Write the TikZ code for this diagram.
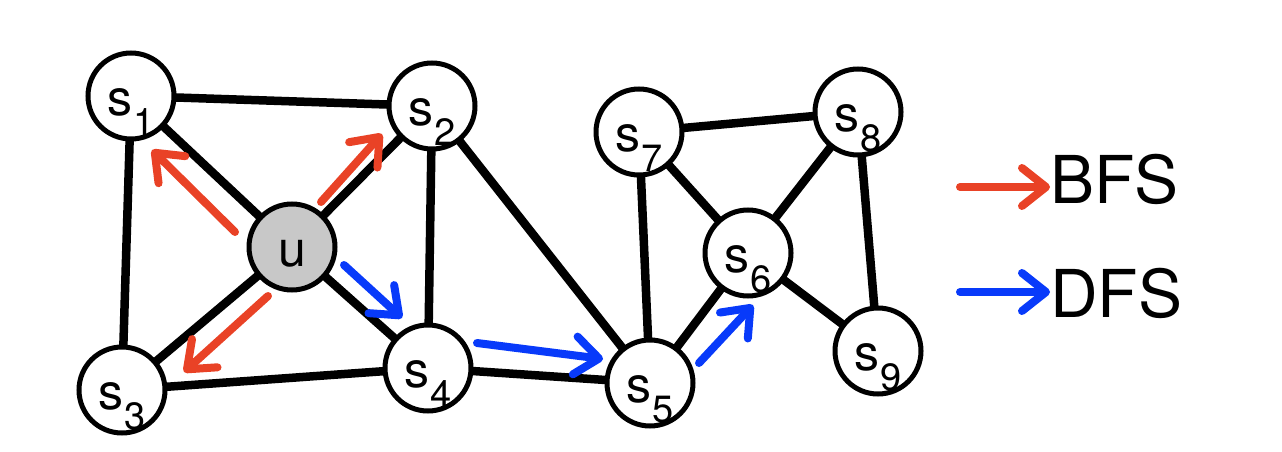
\documentclass[tikz,border=0pt]{standalone}
\usepackage{fontspec}
\setmainfont{TeX Gyre Heros}
\usetikzlibrary{arrows.meta}
\definecolor{bfsred}{RGB}{233,66,38}
\definecolor{dfsblue}{RGB}{8,58,250}
\definecolor{seedgray}{RGB}{200,200,200}
\newcommand{\vname}[1]{s\kern1pt\raisebox{-20pt}{\fontsize{38}{38}\selectfont #1}}

\begin{document}
\begin{tikzpicture}[x=1pt,y=-1pt,
 vertex/.style={circle,draw=black,line width=5pt,fill=white,minimum size=86pt,inner sep=0pt,
   text height=38pt,text depth=0pt,font=\fontsize{50}{56}\selectfont},
 link/.style={line width=8.5pt,black,shorten <=-3pt,shorten >=-3pt},
 bfs/.style={-{Straight Barb[length=24pt,width=38pt,round]},line width=8pt,line cap=round,bfsred},
 dfs/.style={bfs,dfsblue},
 legend/.style={inner sep=0pt,font=\fontsize{66}{70}\selectfont}]
\useasboundingbox (0,0) rectangle (1282,452);

\node[vertex] (s1) at (131,96) {\vname{1}};
\node[vertex] (s2) at (432,106) {\vname{2}};
\node[vertex,fill=seedgray] (u) at (292,247) {u};
\node[vertex] (s3) at (122,390) {\vname{3}};
\node[vertex] (s4) at (428,368) {\vname{4}};
\node[vertex] (s5) at (650,383) {\vname{5}};
\node[vertex] (s6) at (748,253) {\vname{6}};
\node[vertex] (s7) at (639,132) {\vname{7}};
\node[vertex] (s8) at (858,112) {\vname{8}};
\node[vertex] (s9) at (878,351) {\vname{9}};

\foreach \a/\b in {s1/s2,s1/u,s1/s3,u/s2,u/s3,u/s4,s2/s4,s2/s5,s3/s4,s4/s5,
  s5/s7,s5/s6,s7/s6,s7/s8,s8/s6,s8/s9,s6/s9}
  \draw[link] (\a) -- (\b);

% search directions
\coordinate (b1from) at (235,232); \coordinate (b1to) at (152,150);
\coordinate (b2from) at (321,202); \coordinate (b2to) at (382,134);
\coordinate (b3from) at (268,296); \coordinate (b3to) at (184,372);
\draw[bfs] (b1from) -- (b1to);
\draw[bfs] (b2from) -- (b2to);
\draw[bfs] (b3from) -- (b3to);
\coordinate (d1from) at (344,265); \coordinate (d1to) at (402,318);
\coordinate (d2from) at (477,343); \coordinate (d2to) at (603,359);
\coordinate (d3from) at (699,363); \coordinate (d3to) at (753,305);
\draw[dfs] (d1from) -- (d1to);
\draw[dfs] (d2from) -- (d2to);
\draw[dfs] (d3from) -- (d3to);

% legend
\node[legend,anchor=base west] (bfslabel) at (1050,203) {BFS};
\node[legend,anchor=base west] (dfslabel) at (1050,317) {DFS};
\coordinate (bfsfrom) at (960,187);
\coordinate (dfsfrom) at (960,292);
\draw[bfs] (bfsfrom) -- (bfsfrom -| bfslabel.west);
\draw[dfs] (dfsfrom) -- (dfsfrom -| dfslabel.west);
\end{tikzpicture}
\end{document}
